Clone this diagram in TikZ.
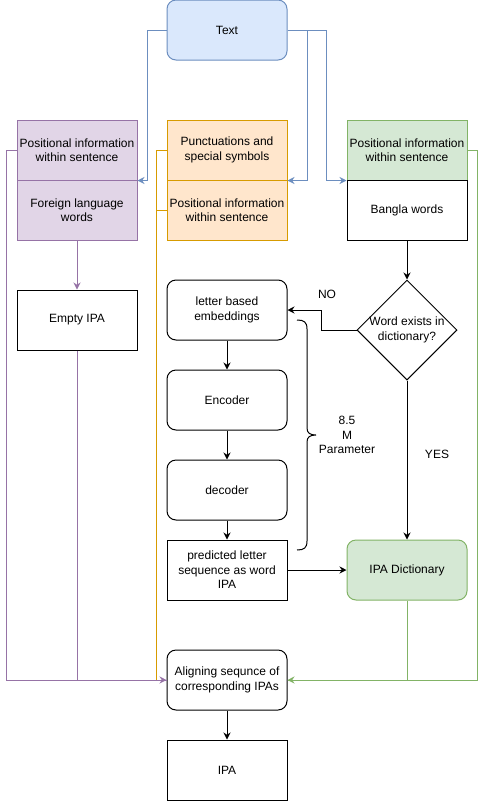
\documentclass[tikz,border=0pt]{standalone}
\usepackage{fontspec}
\setmainfont{Liberation Sans}
\usetikzlibrary{shapes.geometric,arrows.meta}
\definecolor{bluefill}{HTML}{DAE8FC}
\definecolor{bluedraw}{HTML}{6C8EBF}
\definecolor{purpfill}{HTML}{E1D5E7}
\definecolor{purpdraw}{HTML}{9673A6}
\definecolor{orfill}{HTML}{FFE6CC}
\definecolor{ordraw}{HTML}{D79B00}
\definecolor{grfill}{HTML}{D5E8D4}
\definecolor{grdraw}{HTML}{82B366}
\tikzset{
  txt/.style={font=\fontsize{12}{14.5}\selectfont, align=center, inner sep=0pt},
  box/.style={txt, draw, line width=1pt, minimum width=120pt, minimum height=60pt},
  rbox/.style={box, rounded corners=9pt},
  purp/.style={box, draw=purpdraw, fill=purpfill},
  orng/.style={box, draw=ordraw, fill=orfill},
  grn/.style={box, draw=grdraw, fill=grfill},
  decision/.style={draw, line width=1pt, diamond, shape aspect=1, minimum width=100pt, minimum height=100pt, inner sep=0pt},
  conn/.style={line width=1pt, -{Stealth[length=7pt,width=7pt]}},
  plain/.style={line width=1pt},
}
\begin{document}
\begin{tikzpicture}[x=1pt,y=-1pt]
\useasboundingbox (0,0) rectangle (486,801);
% nodes
\node[rbox, draw=bluedraw, fill=bluefill] (text) at (227,30) {Text};
\node[purp] (p1) at (77,150) {Positional information\\within sentence};
\node[purp] (p2) at (77,210) {Foreign language\\words};
\node[orng] (o1) at (227,150) {Punctuations and\\special symbols};
\node[orng] (o2) at (227,210) {Positional information\\within sentence};
\node[grn] (g1) at (407,150) {Positional information\\within sentence};
\node[box] (bw) at (407,210) {Bangla words};
\node[box] (empty) at (77,320) {Empty IPA};
\node[rbox] (emb) at (227,310) {letter based\\embeddings};
\node[rbox] (enc) at (227,400) {Encoder};
\node[rbox] (dec) at (227,490) {decoder};
\node[box] (pred) at (227,570) {predicted letter\\sequence as word\\IPA};
\node[decision, label={[txt]center:Word exists in\\dictionary?}] (d) at (407,330) {};
\node[rbox, draw=grdraw, fill=grfill] (ipad) at (407,570) {IPA Dictionary};
\node[rbox] (align) at (227,680) {Aligning sequnce of\\corresponding IPAs};
\node[box] (ipa) at (227,770) {IPA};
% labels
\node[txt] (no) at (327,294) {NO};
\node[txt] (yes) at (437,454) {YES};
\node[txt] (param) at (347,435) {8.5\\M\\Parameter};
% brace
\draw[plain] (297,320) .. controls (304,320) and (307,322) .. (307,329) -- (307,428) .. controls (307,433) and (310,435) .. (316,435) .. controls (310,435) and (307,437) .. (307,442) -- (307,541) .. controls (307,548) and (304,550) .. (297,550);
% blue connectors
\draw[conn, bluedraw] (text.west) -| ([xshift=10pt]p1.south east) -- (p1.south east);
\draw[conn, bluedraw] (text.east) -| ([xshift=20pt]o1.south east) -- (o1.south east);
\draw[conn, bluedraw] (text.east) -| ([xshift=-20pt]g1.south west) -- (g1.south west);
% orange
\draw[plain, ordraw] (o1.west) -- ++(-10,0) |- (align.west);
\draw[plain, ordraw] (o2.west) -- ++(-10,0);
% purple
\draw[conn, purpdraw] (p2.south) -- (empty.north);
\draw[plain, purpdraw] (empty.south) |- (align.west);
\draw[conn, purpdraw] (p1.west) -- ++(-10,0) |- (align.west);
% green
\draw[plain, grdraw] (ipad.south) |- (align.east);
\draw[conn, grdraw] (g1.east) -- ++(10,0) |- (align.east);
% black
\draw[conn] (bw.south) -- (d.north);
\draw[conn] (d.west) -- ++(-35,0) |- (emb.east);
\draw[conn] (d.south) -- (ipad.north);
\draw[conn] (emb.south) -- (enc.north);
\draw[conn] (enc.south) -- (dec.north);
\draw[conn] (dec.south) -- (pred.north);
\draw[conn] (pred.east) -- (ipad.west);
\draw[conn] (align.south) -- (ipa.north);
\end{tikzpicture}
\end{document}
